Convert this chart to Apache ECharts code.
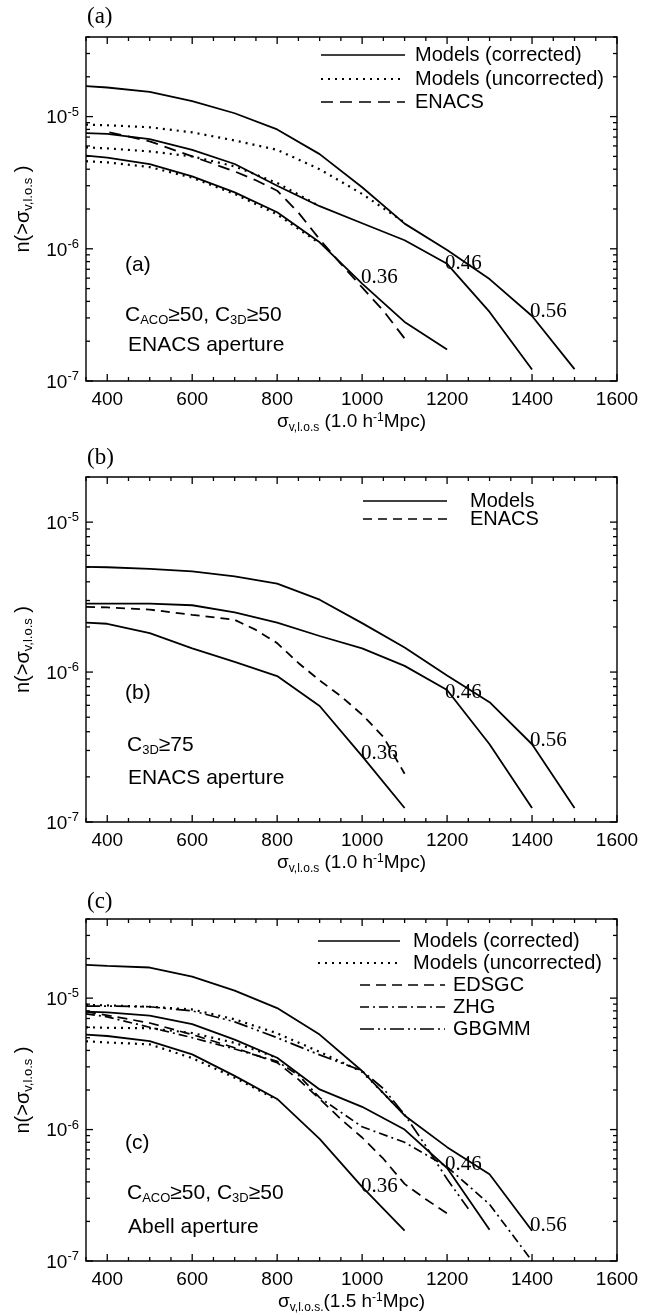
<!DOCTYPE html>
<html>
<head>
<meta charset="utf-8">
<script src="https://cdn.jsdelivr.net/npm/echarts@6/dist/echarts.min.js"></script>
<style>
  html, body { margin: 0; padding: 0; background: #fff; }
  #chart { width: 651px; height: 1315px; }
</style>
</head>
<body>
<div id="chart"></div>
<script>
// ---------- tick values ----------
const X_MAJOR = [400, 600, 800, 1000, 1200, 1400, 1600];
const X_MINOR = [350, 450, 500, 550, 650, 700, 750, 850, 900, 950, 1050, 1100, 1150, 1250, 1300, 1350, 1450, 1500, 1550];
const Y_DECADES = [-7, -6, -5];
const Y_MANTISSAS = [2, 3, 4, 5, 6, 7, 8, 9];

// ---------- panel (a): ENACS aperture, C_ACO>=50, C_3D>=50 ----------
const aX_056 = [350, 400, 500, 600, 700, 800, 900, 1000, 1100, 1200, 1300, 1400, 1500];
const aCorr_056 = [1.70e-5, 1.66e-5, 1.54e-5, 1.31e-5, 1.06e-5, 8.0e-6, 5.2e-6, 2.92e-6, 1.55e-6, 9.8e-7, 5.9e-7, 3.1e-7, 1.23e-7];
const aX_046 = [350, 400, 500, 600, 700, 800, 900, 1000, 1100, 1200, 1300, 1400];
const aCorr_046 = [7.5e-6, 7.4e-6, 6.75e-6, 5.6e-6, 4.38e-6, 3.0e-6, 2.1e-6, 1.56e-6, 1.16e-6, 7.7e-7, 3.33e-7, 1.22e-7];
const aX_036 = [350, 400, 500, 600, 700, 800, 900, 1000, 1100, 1200];
const aCorr_036 = [5.06e-6, 4.9e-6, 4.37e-6, 3.53e-6, 2.67e-6, 1.89e-6, 1.12e-6, 5.45e-7, 2.8e-7, 1.73e-7];
const aXu_056 = [350, 400, 500, 600, 700, 800, 900, 1000, 1100];
const aUnc_056 = [8.7e-6, 8.6e-6, 8.3e-6, 7.6e-6, 6.6e-6, 5.6e-6, 4.0e-6, 2.6e-6, 1.58e-6];
const aXu_046 = [350, 400, 500, 600, 700, 800, 900];
const aUnc_046 = [5.85e-6, 5.75e-6, 5.45e-6, 5.0e-6, 4.2e-6, 3.15e-6, 2.1e-6];
const aXu_036 = [350, 400, 500, 600, 700, 800, 900];
const aUnc_036 = [4.6e-6, 4.5e-6, 4.15e-6, 3.45e-6, 2.6e-6, 1.82e-6, 1.1e-6];
const aX_enacs = [405, 500, 600, 700, 750, 800, 850, 900, 950, 1000, 1050, 1100];
const aEnacs = [7.6e-6, 6.5e-6, 5.0e-6, 3.85e-6, 3.3e-6, 2.75e-6, 1.88e-6, 1.18e-6, 7.7e-7, 5.1e-7, 3.4e-7, 2.1e-7];

// ---------- panel (b): ENACS aperture, C_3D>=75 ----------
const bX_056 = [350, 400, 500, 600, 700, 800, 900, 1000, 1100, 1200, 1300, 1400, 1500];
const bMod_056 = [5.03e-6, 5.0e-6, 4.88e-6, 4.7e-6, 4.35e-6, 3.89e-6, 3.04e-6, 2.12e-6, 1.46e-6, 9.5e-7, 6.3e-7, 3.3e-7, 1.24e-7];
const bX_046 = [350, 400, 500, 600, 700, 800, 900, 1000, 1100, 1200, 1300, 1400];
const bMod_046 = [2.86e-6, 2.86e-6, 2.86e-6, 2.79e-6, 2.5e-6, 2.14e-6, 1.74e-6, 1.44e-6, 1.1e-6, 7.6e-7, 3.3e-7, 1.24e-7];
const bX_036 = [350, 400, 500, 600, 700, 800, 900, 1000, 1100];
const bMod_036 = [2.14e-6, 2.1e-6, 1.82e-6, 1.44e-6, 1.17e-6, 9.4e-7, 5.94e-7, 2.75e-7, 1.24e-7];
const bX_enacs = [350, 400, 500, 600, 700, 750, 800, 850, 900, 950, 1000, 1050, 1100];
const bEnacs = [2.72e-6, 2.7e-6, 2.61e-6, 2.41e-6, 2.23e-6, 1.91e-6, 1.56e-6, 1.15e-6, 8.8e-7, 6.9e-7, 5.2e-7, 3.7e-7, 2.1e-7];

// ---------- panel (c): Abell aperture, C_ACO>=50, C_3D>=50 ----------
const cX_056 = [350, 400, 500, 600, 700, 800, 900, 1000, 1100, 1200, 1300, 1400];
const cCorr_056 = [1.79e-5, 1.76e-5, 1.71e-5, 1.46e-5, 1.14e-5, 8.4e-6, 5.28e-6, 2.79e-6, 1.28e-6, 7.35e-7, 4.57e-7, 1.7e-7];
const cX_046 = [350, 400, 500, 600, 700, 800, 900, 1000, 1100, 1200, 1300];
const cCorr_046 = [7.9e-6, 7.8e-6, 7.35e-6, 6.35e-6, 4.84e-6, 3.52e-6, 2.02e-6, 1.49e-6, 1.0e-6, 5.1e-7, 1.73e-7];
const cX_036 = [350, 400, 500, 600, 700, 800, 900, 1000, 1100];
const cCorr_036 = [5.28e-6, 5.15e-6, 4.7e-6, 3.73e-6, 2.56e-6, 1.71e-6, 8.5e-7, 3.66e-7, 1.7e-7];
const cXu_056 = [350, 400, 500, 600, 700, 800, 900, 1000, 1100];
const cUnc_056 = [8.9e-6, 8.8e-6, 8.6e-6, 8.2e-6, 6.9e-6, 5.4e-6, 3.9e-6, 2.75e-6, 1.3e-6];
const cXu_046 = [350, 400, 500, 600, 700, 800];
const cUnc_046 = [6.0e-6, 5.95e-6, 5.9e-6, 5.43e-6, 4.57e-6, 3.52e-6];
const cXu_036 = [350, 400, 500, 600, 700, 800];
const cUnc_036 = [4.7e-6, 4.6e-6, 4.45e-6, 3.5e-6, 2.48e-6, 1.68e-6];
const cX_edsgc = [350, 400, 500, 600, 700, 800, 850, 900, 950, 1000, 1050, 1100, 1150, 1200];
const cEdsgc = [7.9e-6, 7.4e-6, 6.47e-6, 5.28e-6, 4.19e-6, 3.23e-6, 2.41e-6, 1.71e-6, 1.2e-6, 8.7e-7, 6.0e-7, 3.86e-7, 2.95e-7, 2.3e-7];
const cX_zhg = [350, 400, 500, 600, 700, 800, 850, 900, 1000, 1100, 1200, 1300, 1400];
const cZhg = [7.6e-6, 7.2e-6, 6.0e-6, 5.0e-6, 4.1e-6, 3.3e-6, 2.6e-6, 1.75e-6, 1.05e-6, 8.0e-7, 5.2e-7, 2.7e-7, 1.0e-7];
const cX_gbgmm = [350, 400, 500, 600, 700, 800, 900, 1000, 1050, 1100, 1150, 1200, 1250];
const cGbgmm = [8.7e-6, 8.7e-6, 8.6e-6, 8.0e-6, 6.6e-6, 5.0e-6, 3.7e-6, 2.8e-6, 2.05e-6, 1.3e-6, 7.5e-7, 4.2e-7, 2.5e-7];

// ---------- drawing ----------
const SANS = "'Liberation Sans', Arial, Helvetica, sans-serif";
const SERIF = "'Liberation Serif', 'Times New Roman', serif";
const INK = '#000';

const GRID_LEFT = 86, GRID_WIDTH = 531;
const PANELS = [
  { top: 37, height: 344, ymax: 4e-5, xname: '{m|σ}{sub|v,l.o.s}{m| (1.0 h}{sup|-1}{m|Mpc)}' },
  { top: 477, height: 345, ymax: 2e-5, xname: '{m|σ}{sub|v,l.o.s}{m| (1.0 h}{sup|-1}{m|Mpc)}' },
  { top: 919, height: 342, ymax: 4e-5, xname: '{m|σ}{sub|v,l.o.s.}{m|(1.5 h}{sup|-1}{m|Mpc)}' }
];

const DOT = [2, 5];
const STYLE = {
  solid: { type: 'solid', width: 1.8 },
  dotted: { type: DOT, width: 2.2 },
  enacsA: { type: [12, 7], width: 1.8 },
  enacsB: { type: [9, 6], width: 1.8 },
  edsgc: { type: [10, 6], width: 1.7 },
  zhg: { type: [9, 4, 2, 4], width: 1.7 },
  gbgmm: { type: [14, 4, 2, 4, 2, 4], width: 1.7 }
};

function curve(panel, name, xs, ys, style, tag) {
  const s = {
    type: 'line', name: name, xAxisIndex: panel, yAxisIndex: panel,
    data: xs.map((x, i) => [x, ys[i]]),
    symbol: 'none', silent: true, z: 3,
    lineStyle: { color: INK, width: style.width, type: style.type, cap: 'butt' }
  };
  if (tag) {
    const i = xs.indexOf(tag.at);
    s.markPoint = {
      symbol: 'circle', symbolSize: 0, silent: true,
      itemStyle: { color: 'transparent' },
      data: [{ coord: [xs[i], ys[i]] }],
      label: {
        show: true, formatter: tag.text, position: 'right', distance: 0,
        offset: tag.offset, color: INK, fontFamily: SERIF, fontSize: 21
      }
    };
  }
  return s;
}

function tickData(ymax) {
  const out = [];
  X_MAJOR.forEach(v => out.push([v, 1e-6, 0]));
  X_MINOR.forEach(v => out.push([v, 1e-6, 1]));
  Y_DECADES.forEach(k => {
    out.push([1000, Math.pow(10, k), 2]);
    Y_MANTISSAS.forEach(m => {
      const v = m * Math.pow(10, k);
      if (v <= ymax * 1.0001) out.push([1000, v, 3]);
    });
  });
  return out;
}

function seg(x1, y1, x2, y2) {
  return { type: 'line', shape: { x1, y1, x2, y2 }, style: { stroke: INK, lineWidth: 1.3 } };
}

function tickSeries(panel, ymax) {
  return {
    type: 'custom', xAxisIndex: panel, yAxisIndex: panel, silent: true, z: 6,
    dimensions: ['x', 'y', 'kind'], encode: { x: 0, y: 1 },
    data: tickData(ymax),
    renderItem: function (params, api) {
      const cs = params.coordSys;
      const kind = api.value(2);
      if (kind < 2) {
        const px = api.coord([api.value(0), 1e-6])[0];
        const len = kind === 0 ? 7 : 4;
        return { type: 'group', children: [
          seg(px, cs.y + cs.height, px, cs.y + cs.height - len),
          seg(px, cs.y, px, cs.y + len)
        ] };
      }
      const py = api.coord([1000, api.value(1)])[1];
      const len = kind === 2 ? 7 : 4;
      return { type: 'group', children: [
        seg(cs.x, py, cs.x + len, py),
        seg(cs.x + cs.width, py, cs.x + cs.width - len, py)
      ] };
    }
  };
}

function powLabel(v) {
  const e = Math.round(Math.log10(v));
  if (Math.abs(v / Math.pow(10, e) - 1) > 1e-6) return '';
  return '{b|10}{s|' + e + '}';
}

const richMain = {
  m: { fontFamily: SANS, fontSize: 19, color: INK, lineHeight: 24 },
  sub: { fontFamily: SANS, fontSize: 12, color: INK, lineHeight: 12, verticalAlign: 'bottom' },
  sup: { fontFamily: SANS, fontSize: 12, color: INK, lineHeight: 12, verticalAlign: 'top', padding: [2, 0, 0, 0] }
};
const richY = {
  m: { fontFamily: SANS, fontSize: 20, color: INK, lineHeight: 24 },
  sub: { fontFamily: SANS, fontSize: 13, color: INK, lineHeight: 13, verticalAlign: 'bottom' }
};

const grids = [], xAxes = [], yAxes = [];
PANELS.forEach((p, i) => {
  grids.push({ left: GRID_LEFT, width: GRID_WIDTH, top: p.top, height: p.height,
    show: true, borderColor: INK, borderWidth: 1.4, backgroundColor: 'transparent', containLabel: false });
  xAxes.push({
    type: 'value', gridIndex: i, min: 350, max: 1600, interval: 50,
    axisLine: { show: false }, axisTick: { show: false }, splitLine: { show: false },
    axisLabel: { formatter: v => (X_MAJOR.indexOf(v) >= 0 ? String(v) : ''),
      fontFamily: SANS, fontSize: 19, color: INK, margin: 9 },
    name: p.xname, nameLocation: 'middle', nameGap: 27,
    nameTextStyle: { rich: richMain }
  });
  yAxes.push({
    type: 'log', logBase: 10, gridIndex: i, min: 1e-7, max: p.ymax,
    axisLine: { show: false }, axisTick: { show: false }, splitLine: { show: false },
    minorTick: { show: false },
    axisLabel: { formatter: powLabel, margin: 7, color: INK,
      rich: {
        b: { fontFamily: SANS, fontSize: 19, color: INK, lineHeight: 22, verticalAlign: 'bottom' },
        s: { fontFamily: SANS, fontSize: 13, color: INK, lineHeight: 13, verticalAlign: 'top' }
      } },
    name: '{m|n(>σ}{sub|v,l.o.s}{m| )}', nameLocation: 'middle', nameGap: 48,
    nameTextStyle: { rich: richY }
  });
});

const series = [
  // (a)
  curve(0, 'corr 0.56', aX_056, aCorr_056, STYLE.solid, { at: 1400, text: '0.56', offset: [-2, -5] }),
  curve(0, 'corr 0.46', aX_046, aCorr_046, STYLE.solid, { at: 1200, text: '0.46', offset: [-2, 0] }),
  curve(0, 'corr 0.36', aX_036, aCorr_036, STYLE.solid, { at: 1000, text: '0.36', offset: [-1, -6] }),
  curve(0, 'unc 0.56', aXu_056, aUnc_056, STYLE.dotted),
  curve(0, 'unc 0.46', aXu_046, aUnc_046, STYLE.dotted),
  curve(0, 'unc 0.36', aXu_036, aUnc_036, STYLE.dotted),
  curve(0, 'ENACS', aX_enacs, aEnacs, STYLE.enacsA),
  // (b)
  curve(1, 'model 0.56', bX_056, bMod_056, STYLE.solid, { at: 1400, text: '0.56', offset: [-2, -4] }),
  curve(1, 'model 0.46', bX_046, bMod_046, STYLE.solid, { at: 1200, text: '0.46', offset: [-2, 3] }),
  curve(1, 'model 0.36', bX_036, bMod_036, STYLE.solid, { at: 1000, text: '0.36', offset: [-1, -3] }),
  curve(1, 'ENACS', bX_enacs, bEnacs, STYLE.enacsB),
  // (c)
  curve(2, 'corr 0.56', cX_056, cCorr_056, STYLE.solid, { at: 1400, text: '0.56', offset: [-2, -5] }),
  curve(2, 'corr 0.46', cX_046, cCorr_046, STYLE.solid, { at: 1200, text: '0.46', offset: [-2, -4] }),
  curve(2, 'corr 0.36', cX_036, cCorr_036, STYLE.solid, { at: 1000, text: '0.36', offset: [-1, 0] }),
  curve(2, 'unc 0.56', cXu_056, cUnc_056, STYLE.dotted),
  curve(2, 'unc 0.46', cXu_046, cUnc_046, STYLE.dotted),
  curve(2, 'unc 0.36', cXu_036, cUnc_036, STYLE.dotted),
  curve(2, 'EDSGC', cX_edsgc, cEdsgc, STYLE.edsgc),
  curve(2, 'ZHG', cX_zhg, cZhg, STYLE.zhg),
  curve(2, 'GBGMM', cX_gbgmm, cGbgmm, STYLE.gbgmm),
  tickSeries(0, PANELS[0].ymax),
  tickSeries(1, PANELS[1].ymax),
  tickSeries(2, PANELS[2].ymax)
];

// ---------- legends, panel letters and notes ----------
function legendRow(x1, x2, tx, y, dash, text) {
  return [
    { type: 'line', shape: { x1: x1, y1: y, x2: x2, y2: y },
      style: { stroke: INK, lineWidth: dash === DOT ? 2.2 : 1.7, lineDash: dash, lineCap: 'butt' } },
    { type: 'text', x: tx, y: y, style: { text: text, fill: INK, fontFamily: SANS, fontSize: 20, verticalAlign: 'middle' } }
  ];
}
function note(x, y, text, font, size) {
  return { type: 'text', x: x, y: y, style: {
    text: text, fill: INK, fontFamily: font, fontSize: size, verticalAlign: 'middle',
    rich: {
      n: { fontFamily: font, fontSize: size, fill: INK, lineHeight: 24 },
      s: { fontFamily: font, fontSize: 13, fill: INK, lineHeight: 13, verticalAlign: 'bottom' }
    } } };
}

const graphics = [].concat(
  // panel (a)
  [note(87, 17, '(a)', SERIF, 23)],
  legendRow(321, 405, 415, 55, null, 'Models (corrected)'),
  legendRow(321, 405, 415, 79, DOT, 'Models (uncorrected)'),
  legendRow(321, 405, 415, 102, STYLE.enacsA.type, 'ENACS'),
  [note(125, 265, '{n|(a)}', SANS, 21),
   note(125, 315, '{n|C}{s|ACO}{n|≥50, C}{s|3D}{n|≥50}', SANS, 21),
   note(128, 345, '{n|ENACS aperture}', SANS, 21)],
  // panel (b)
  [note(87, 458, '(b)', SERIF, 23)],
  legendRow(363, 447, 470, 501, null, 'Models'),
  legendRow(363, 447, 470, 519, STYLE.enacsB.type, 'ENACS'),
  [note(125, 693, '{n|(b)}', SANS, 21),
   note(127, 745, '{n|C}{s|3D}{n|≥75}', SANS, 21),
   note(128, 778, '{n|ENACS aperture}', SANS, 21)],
  // panel (c)
  [note(87, 902, '(c)', SERIF, 23)],
  legendRow(318, 400, 413, 941, null, 'Models (corrected)'),
  legendRow(318, 400, 413, 963, DOT, 'Models (uncorrected)'),
  legendRow(360, 445, 453, 985, STYLE.edsgc.type, 'EDSGC'),
  legendRow(360, 445, 453, 1007, STYLE.zhg.type, 'ZHG'),
  legendRow(360, 445, 453, 1029, STYLE.gbgmm.type, 'GBGMM'),
  [note(125, 1143, '{n|(c)}', SANS, 21),
   note(127, 1193, '{n|C}{s|ACO}{n|≥50, C}{s|3D}{n|≥50}', SANS, 21),
   note(128, 1227, '{n|Abell aperture}', SANS, 21)]
);

const chart = echarts.init(document.getElementById('chart'), null, { renderer: 'canvas' });
chart.setOption({
  animation: false,
  backgroundColor: '#fff',
  grid: grids,
  xAxis: xAxes,
  yAxis: yAxes,
  series: series,
  graphic: graphics
});
</script>
</body>
</html>
